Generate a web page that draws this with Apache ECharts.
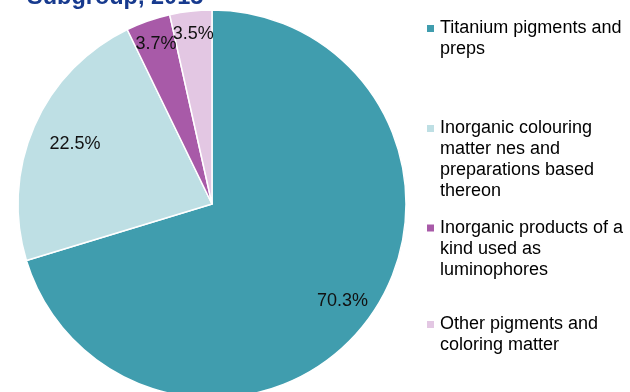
<!DOCTYPE html>
<html>
<head>
<meta charset="utf-8">
<script src="https://cdn.jsdelivr.net/npm/echarts@6/dist/echarts.min.js"></script>
<style>
  html, body { margin: 0; padding: 0; background: #fff; }
  #chart { width: 630px; height: 392px; }
</style>
</head>
<body>
<div id="chart"></div>
<script>
// Export share by subgroup
const categories = [
  'Titanium pigments and preps',
  'Inorganic colouring matter nes and preparations based thereon',
  'Inorganic products of a kind used as luminophores',
  'Other pigments and coloring matter'
];
const shares = [70.3, 22.5, 3.7, 3.5];
const legendLines = [
  'Titanium pigments and\npreps',
  'Inorganic colouring\nmatter nes and\npreparations based\nthereon',
  'Inorganic products of a\nkind used as\nluminophores',
  'Other pigments and\ncoloring matter'
];
const titleText = 'Subgroup, 2015';

const colors = ['#409DAE', '#BEDFE4', '#A85AA8', '#E3C7E3'];
const FONT = '"Liberation Sans", Arial, sans-serif';
const CX = 212, CY = 204, R = 194;
// how far out each value label sits, relative to the default mid-radius spot
const labelReach = [1.625, 1.494, 1.699, 1.707];
// vertical placement of each legend entry
const legendTops = [-3, 55, 175.5, 293];
const LINE_H = 21;

const chart = echarts.init(document.getElementById('chart'), null, { renderer: 'canvas' });

// blank lines ahead of the text keep the marker level with the first line
const legends = categories.map((name, i) => {
  const n = legendLines[i].split('\n').length;
  const text = '\n'.repeat(n - 1) + legendLines[i];
  return {
    data: [name],
    orient: 'vertical',
    left: 425,
    top: legendTops[i],
    padding: 0,
    itemWidth: 9,
    itemHeight: 9,
    icon: 'rect',
    selectedMode: false,
    formatter: () => text,
    textStyle: {
      fontFamily: FONT,
      fontSize: 18,
      color: '#000',
      lineHeight: LINE_H
    }
  };
});

chart.setOption({
  animation: false,
  color: colors,
  title: {
    text: titleText,
    left: 27,
    top: -14,
    padding: 0,
    textStyle: { fontFamily: FONT, fontSize: 23.5, fontWeight: 'bold', color: '#173A8E' }
  },
  legend: legends,
  series: [{
    type: 'pie',
    center: [CX, CY],
    radius: [0, R],
    startAngle: 90,
    clockwise: true,
    avoidLabelOverlap: false,
    itemStyle: { borderColor: '#fff', borderWidth: 1.5 },
    label: {
      show: true,
      position: 'inside',
      formatter: p => p.value.toFixed(1) + '%',
      fontFamily: FONT,
      fontSize: 18,
      color: '#111'
    },
    labelLine: { show: false },
    emphasis: { disabled: true },
    labelLayout: function (params) {
      const r = params.labelRect;
      const lx = r.x + r.width / 2, ly = r.y + r.height / 2;
      const k = labelReach[params.dataIndex] - 1;
      return { dx: (lx - CX) * k, dy: (ly - CY) * k };
    },
    data: categories.map((name, i) => ({ name, value: shares[i] }))
  }]
});
</script>
</body>
</html>
